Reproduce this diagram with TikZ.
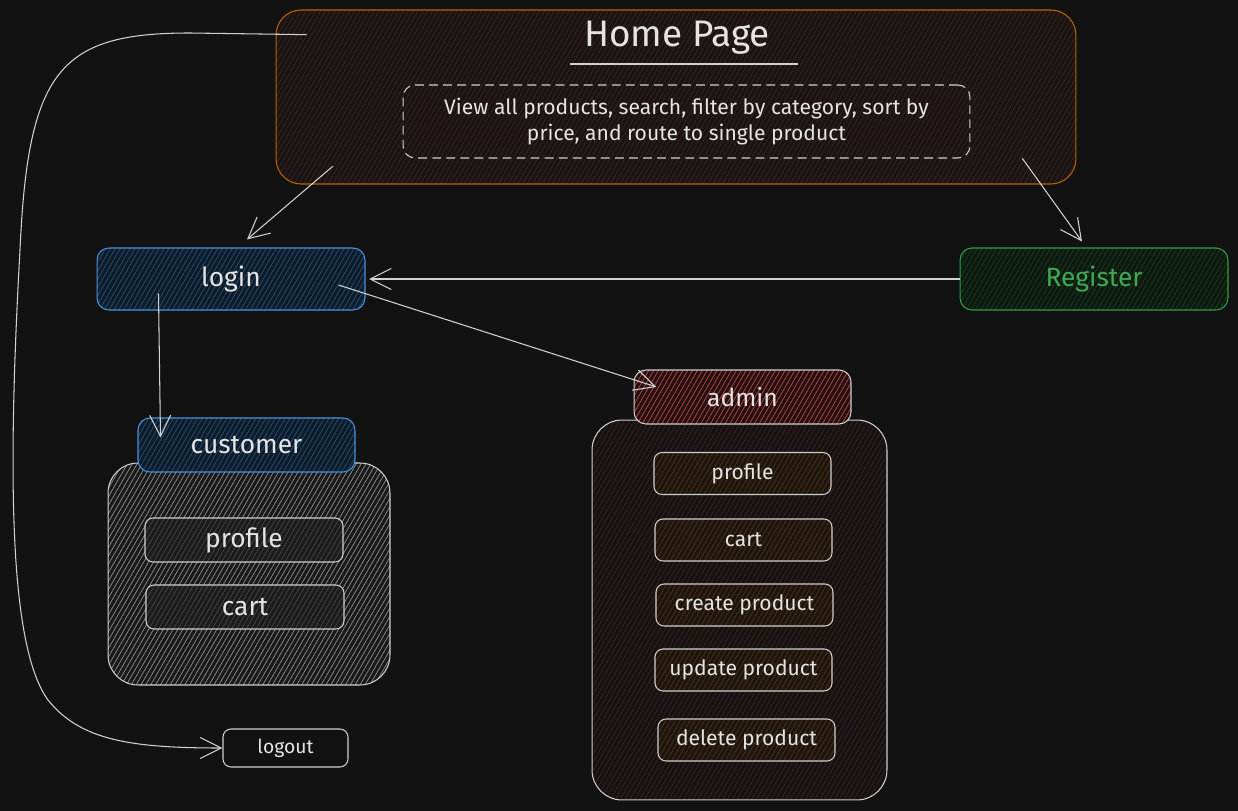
\documentclass[tikz,border=0pt]{standalone}
\usepackage{fontspec}
\setmainfont{Fira Sans}
\usetikzlibrary{arrows.meta, positioning, calc, patterns.meta}

\definecolor{bg}{HTML}{121212}
\definecolor{ink}{HTML}{E4E4E4}
\definecolor{wire}{HTML}{D2D2D2}
\definecolor{edge}{HTML}{CFCFCF}
\definecolor{homeedge}{HTML}{B8620C}
\definecolor{homebg}{HTML}{1B1414}
\definecolor{homehatch}{HTML}{3A2424}
\definecolor{bluedge}{HTML}{4A90D9}
\definecolor{bluebg}{HTML}{0F1C29}
\definecolor{bluehatch}{HTML}{27507A}
\definecolor{greenedge}{HTML}{2F9E44}
\definecolor{greenbg}{HTML}{0E1A10}
\definecolor{greenhatch}{HTML}{1C3D22}
\definecolor{greentext}{HTML}{40A852}
\definecolor{graybg}{HTML}{1A1A1A}
\definecolor{grayhatch}{HTML}{909090}
\definecolor{itemgray}{HTML}{1C1C1C}
\definecolor{itemgrayhatch}{HTML}{464646}
\definecolor{redbg}{HTML}{221212}
\definecolor{redhatch}{HTML}{C84444}
\definecolor{darkred}{HTML}{161212}
\definecolor{darkredhatch}{HTML}{3A2222}
\definecolor{brownbg}{HTML}{1E160E}
\definecolor{brownhatch}{HTML}{4A3418}

\begin{document}
\begin{tikzpicture}[x=0.02cm, y=-0.02cm,
    box/.style={rectangle, draw, line width=0.6pt, rounded corners=0.24cm, text=ink, inner sep=0pt},
    hatch/.style 2 args={preaction={fill=#1}, pattern={Lines[angle=60, distance=2.4pt, line width=0.4pt]}, pattern color=#2},
    big/.style={font=\fontsize{15}{18}\selectfont},
    item/.style={box, rounded corners=0.16cm, draw=edge, hatch={brownbg}{brownhatch}, minimum width=3.54cm, minimum height=0.84cm, font=\fontsize{12}{14}\selectfont},
    citem/.style={box, rounded corners=0.16cm, draw=edge, hatch={itemgray}{itemgrayhatch}, minimum width=3.96cm, minimum height=0.88cm, big},
    arrow/.style={-{Straight Barb[length=12pt, width=12pt]}, draw=wire, line width=0.6pt}
]

    % Background
    \fill[bg] (0,0) rectangle (1238,811);

    % Home Page
    \node[box, draw=homeedge, rounded corners=0.5cm, hatch={homebg}{homehatch}, minimum width=16cm, minimum height=3.48cm] (home) at (676,97) {};
    \node[text=ink, font=\fontsize{21}{25}\selectfont] (title) at (677,38) {Home Page};
    \draw[wire, line width=0.8pt] ($(title)+(-107,26)$) -- ($(title)+(121,26)$);
    \node[box, draw=edge, dashed, dash pattern=on 5pt off 3pt, hatch={homebg}{darkredhatch}, minimum width=11.34cm, minimum height=1.46cm, align=center, font=\fontsize{12}{15}\selectfont] (desc) at (686.5,121.5)
        {View all products, search, filter by category, sort by\\price, and route to single product};

    % Login / Register
    \node[box, big, draw=bluedge, hatch={bluebg}{bluehatch}, minimum width=5.36cm, minimum height=1.24cm] (login) at (231,279) {login};
    \node[box, big, draw=greenedge, text=greentext, hatch={greenbg}{greenhatch}, minimum width=5.36cm, minimum height=1.24cm] (register) at (1094,279) {Register};

    % Customer
    \node[box, draw=edge, rounded corners=0.6cm, hatch={graybg}{grayhatch}, minimum width=5.64cm, minimum height=4.44cm] (custbox) at (249,574) {};
    \node[box, big, draw=bluedge, hatch={bluebg}{bluehatch}, minimum width=4.34cm, minimum height=1.08cm] (customer) at (246.5,445) {customer};
    \node[citem] (cprofile) at (244,540) {profile};
    \node[citem] (ccart) at (245,607) {cart};

    % Admin
    \node[box, draw=edge, rounded corners=0.6cm, hatch={darkred}{darkredhatch}, minimum width=5.9cm, minimum height=7.6cm] (adminbox) at (739.5,610) {};
    \node[box, draw=edge, hatch={redbg}{redhatch}, minimum width=4.34cm, minimum height=1.08cm, font=\fontsize{14}{17}\selectfont] (admin) at (742.5,397) {admin};
    \foreach \y/\x/\name/\label in {473.5/742.5/aprofile/profile, 540/743.5/acart/cart, 605/744.5/acreate/create product, 670/743.5/aupdate/update product, 740/746.5/adelete/delete product} {
        \node[item] (\name) at (\x,\y) {\label};
    }

    % Logout
    \node[box, draw=edge, rounded corners=0.16cm, minimum width=2.5cm, minimum height=0.76cm, font=\fontsize{11}{13}\selectfont] (logout) at (285.5,748) {logout};

    % Arrows
    \draw[arrow] ($(home.south west)+(57,-18)$) -- ($(login.north)+(16,-8)$);
    \draw[arrow] ($(home.south east)+(-54,-26)$) -- ($(register.north)+(-12,-6)$);
    \draw[arrow, shorten >=2pt] (register.west) -- (login.east);
    \draw[arrow] ($(login.south west)+(62,-17)$) -- ($(customer.north west)+(23,20)$);
    \draw[arrow] ($(login.east)+(-27,6)$) -- ($(admin.west)+(23,-10)$);

    \coordinate (loopstart) at ($(home.north west)+(31,25)$);
    \draw[arrow] (loopstart) -- (190,33) .. controls (60,33) and (28,70) .. (20,250)
        .. controls (6,500) and (12,650) .. (48,700)
        .. controls (80,740) and (130,748) .. (logout.west);

\end{tikzpicture}
\end{document}
